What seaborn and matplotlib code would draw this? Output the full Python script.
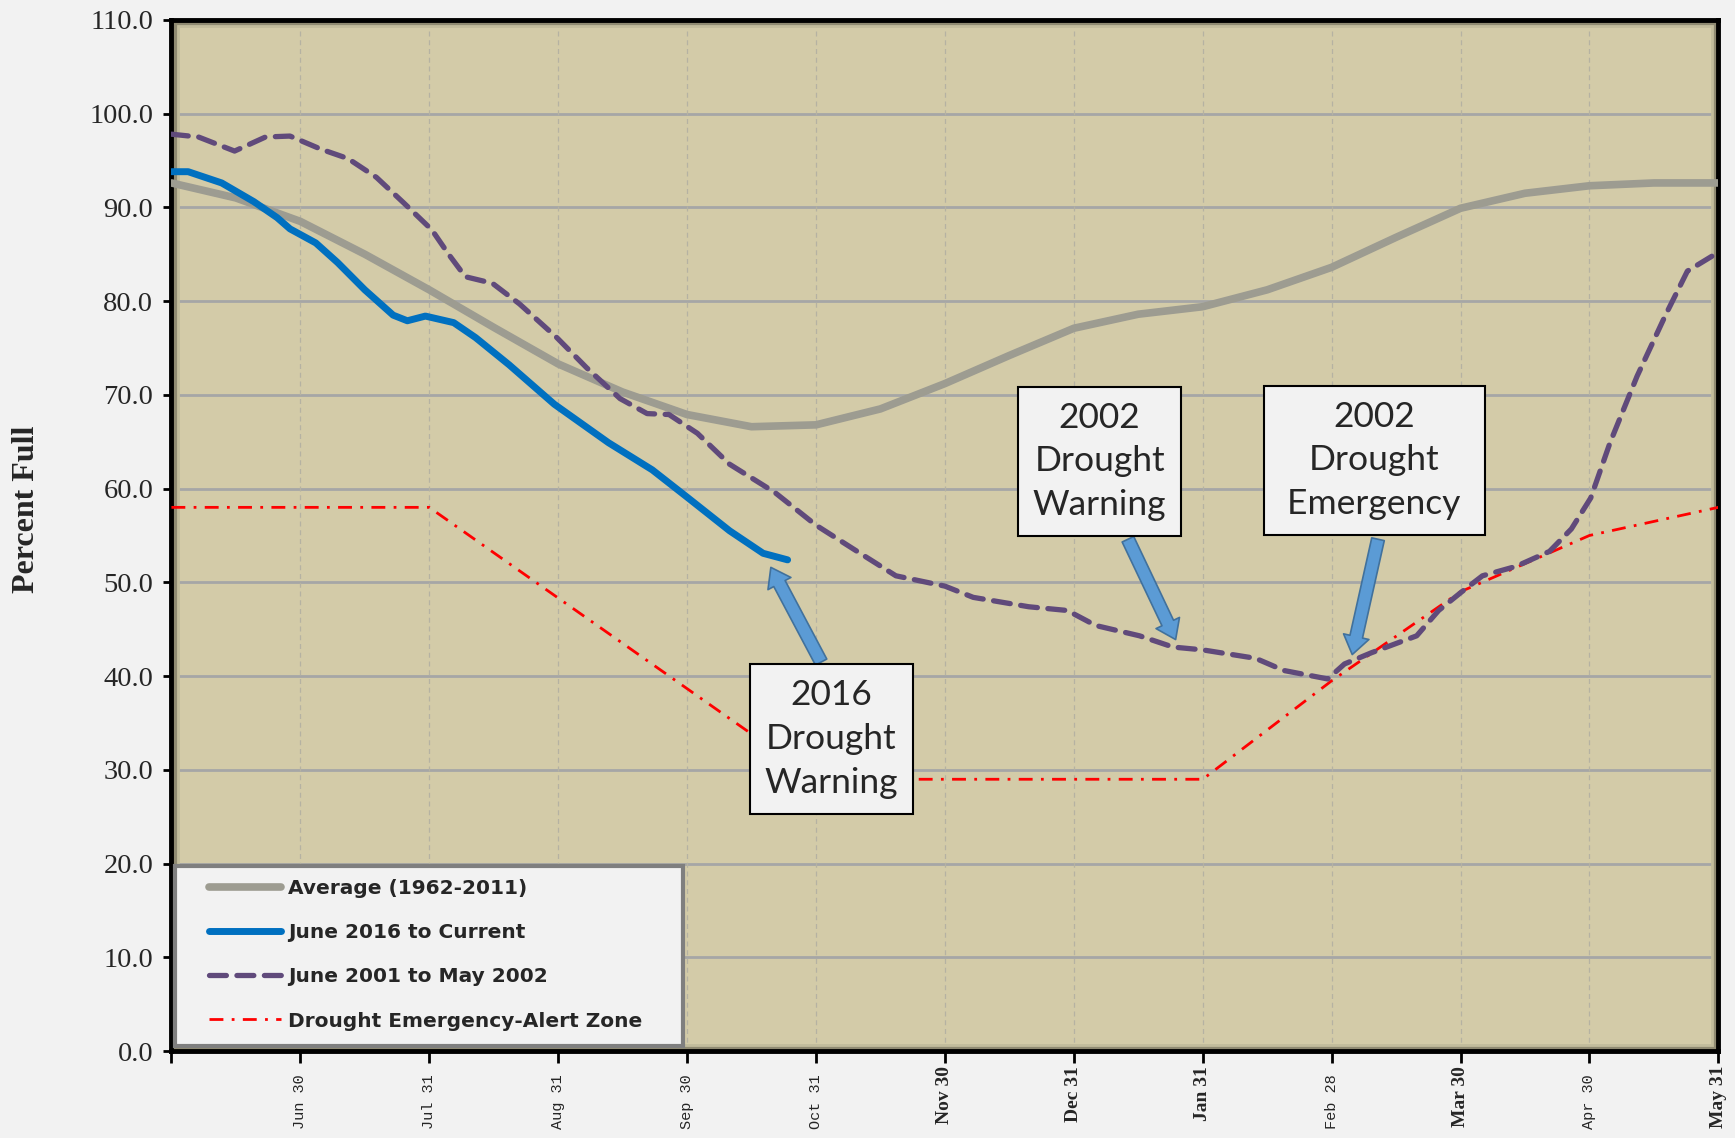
import matplotlib
matplotlib.use("Agg")
import matplotlib.pyplot as plt
import matplotlib.transforms as mtrans
import seaborn as sns
from matplotlib.patches import Rectangle

# x axis: months after June 1 (0 = Jun 1, 12 = May 31)
tick_pos = [0, 1, 2, 3, 4, 5, 6, 7, 8, 9, 10, 11, 12]
tick_labels = ["", "Jun 30", "Jul 31", "Aug 31", "Sep 30", "Oct 31", "Nov 30",
               "Dec 31", "Jan 31", "Feb 28", "Mar 30", "Apr 30", "May 31"]

# Average (1962-2011)
avg_x = [0, 0.5, 1, 1.5, 2, 2.5, 3, 3.5, 4, 4.5, 5, 5.5, 6, 6.5, 7, 7.5, 8,
         8.5, 9, 9.5, 10, 10.5, 11, 11.5, 12]
avg_y = [92.6, 91.0, 88.5, 85.0, 81.2, 77.2, 73.3, 70.3, 67.9, 66.6, 66.8, 68.5,
         71.2, 74.2, 77.1, 78.6, 79.4, 81.2, 83.6, 86.8, 89.9, 91.5, 92.3, 92.6, 92.6]

# June 2016 to Current
cur_x = [0, 0.13, 0.39, 0.64, 0.82, 0.92, 1.12, 1.29, 1.50, 1.72, 1.83, 1.97,
         2.19, 2.36, 2.62, 2.97, 3.39, 3.73, 3.99, 4.33, 4.59, 4.78]
cur_y = [93.8, 93.8, 92.6, 90.6, 88.9, 87.7, 86.2, 84.1, 81.2, 78.5, 77.9, 78.4,
         77.7, 76.1, 73.2, 69.0, 64.9, 62.0, 59.2, 55.5, 53.1, 52.4]

# June 2001 to May 2002
dry_x = [0, 0.21, 0.49, 0.73, 0.92, 1.16, 1.37, 1.59, 1.80, 2.02, 2.15, 2.28,
         2.49, 2.70, 2.99, 3.22, 3.48, 3.69, 3.86, 4.08, 4.33, 4.68, 5.00, 5.32,
         5.62, 6.00, 6.22, 6.65, 6.95, 7.17, 7.51, 7.77, 8.00, 8.41, 8.63, 8.97,
         9.10, 9.31, 9.66, 9.83, 10.01, 10.17, 10.43, 10.69, 10.86, 11.01, 11.16,
         11.37, 11.59, 11.76, 12.0]
dry_y = [97.8, 97.5, 96.0, 97.5, 97.6, 96.2, 95.2, 93.2, 90.5, 87.6, 85.0, 82.6,
         81.9, 79.7, 76.1, 72.9, 69.6, 68.0, 67.9, 65.9, 62.6, 59.6, 56.1, 53.3,
         50.7, 49.6, 48.4, 47.4, 47.0, 45.4, 44.3, 43.1, 42.8, 41.9, 40.6, 39.7,
         41.3, 42.5, 44.3, 47.0, 49.0, 50.7, 51.7, 53.3, 55.7, 59.0, 64.9,
         72.0, 78.5, 83.2, 85.2]

# Drought Emergency-Alert Zone
zone_x = [0, 2, 5, 8, 9, 10, 11, 12]
zone_y = [58, 58, 29, 29, 39.5, 49, 55, 58]

# callouts: text, box centre, arrow tail, arrow tip
notes = ["2016\nDrought\nWarning", "2002\nDrought\nWarning", "2002\nDrought\n Emergency "]
note_xy = [(5.12, 33.3), (7.20, 62.9), (9.33, 63.0)]
arrow_tail = [(5.04, 41.5), (7.42, 54.6), (9.36, 54.6)]
arrow_tip = [(4.65, 51.6), (7.79, 43.9), (9.16, 42.3)]

sns.set_theme(style="ticks")
plt.rcParams["font.family"] = ["Liberation Serif", "DejaVu Serif"]

fig = plt.figure(figsize=(17.35, 11.38), dpi=100, facecolor="#f2f2f2")
ax = fig.add_axes([0.0988, 0.0763, 0.8916, 0.9063])
ax.set_facecolor("#d3cba8")

sns.lineplot(x=avg_x, y=avg_y, ax=ax, color="#9d9c91", lw=5.5,
             label="Average (1962-2011)", zorder=3, solid_capstyle="round")
h_avg = ax.lines[-1]
sns.lineplot(x=zone_x, y=zone_y, ax=ax, color="#ff0000", lw=2,
             label="Drought Emergency-Alert Zone", zorder=3)
h_zone = ax.lines[-1]
h_zone.set_dashes([5, 3, 1, 3])
sns.lineplot(x=dry_x, y=dry_y, ax=ax, color="#604a7b", lw=3.8,
             label="June 2001 to May 2002", zorder=4)
h_dry = ax.lines[-1]
h_dry.set_dashes([3.2, 2.0])
h_dry.set_dash_capstyle("round")
sns.lineplot(x=cur_x, y=cur_y, ax=ax, color="#0070c0", lw=5,
             label="June 2016 to Current", zorder=5, solid_capstyle="round")
h_cur = ax.lines[-1]

ax.set_xlim(0, 12)
ax.set_ylim(0, 110)
ax.set_xticks(tick_pos)
ax.set_xticklabels(tick_labels, rotation=90)
ax.set_yticks(range(0, 111, 10))
ax.set_yticklabels([f"{v:.1f}" for v in range(0, 111, 10)], fontsize=20.5)

ax.tick_params(axis="x", direction="out", length=8.5, width=2, color="black", pad=2)
ax.tick_params(axis="y", direction="out", length=6, width=2, color="black", pad=7)

# the source mixes two fonts on the date axis
bold_ticks = {"Nov 30", "Dec 31", "Jan 31", "Mar 30", "May 31"}
shift = mtrans.ScaledTranslation(0, -6 / 72, fig.dpi_scale_trans)
for lab in ax.get_xticklabels():
    if lab.get_text() in bold_ticks:
        lab.set_fontfamily("Liberation Serif")
        lab.set_fontweight("bold")
        lab.set_fontsize(14)
    else:
        lab.set_fontfamily("Liberation Mono")
        lab.set_fontsize(11)
        lab.set_transform(lab.get_transform() + shift)

ax.grid(False)
for y in range(10, 110, 10):
    ax.axhline(y, color="#a6a6a6", lw=2, zorder=1)
for x in range(1, 12):
    ax.axvline(x, color="#b5b2a2", lw=0.9, ls=(0, (4, 3)), zorder=1)

for s in ax.spines.values():
    s.set_color("black")
    s.set_linewidth(3.5)
# bevel look inside the frame
ax.add_patch(Rectangle((0, 0), 1, 1, transform=ax.transAxes, fill=False,
                       ec="#8f8a72", lw=9, zorder=2))
ax.add_patch(Rectangle((0.004, 0.006), 0.992, 0.988, transform=ax.transAxes, fill=False,
                       ec="#c2bc9c", lw=2, zorder=2))

ax.set_xlabel("")
ax.set_ylabel("Percent Full", fontsize=23, fontweight="bold")
ax.yaxis.set_label_coords(-0.084, 0.525)

# legend box drawn by hand, legend entries placed inside it
ax.add_patch(Rectangle((0.0023, 0.005), 0.3284, 0.1746, transform=ax.transAxes,
                       fc="#f2f2f2", ec="#7f7f7f", lw=3, zorder=9))
leg = ax.legend(handles=[h_avg, h_cur, h_dry, h_zone],
                labels=["Average (1962-2011)", "June 2016 to Current",
                        "June 2001 to May 2002", "Drought Emergency-Alert Zone"],
                loc="lower left", bbox_to_anchor=(0.024, 0.02), borderaxespad=0,
                borderpad=0, frameon=False, handlelength=3.6,
                labelspacing=1.25, handletextpad=0.35,
                prop={"family": "DejaVu Sans", "weight": "bold", "size": 14.5})
leg.set_zorder(10)

for txt, xy, tail, tip in zip(notes, note_xy, arrow_tail, arrow_tip):
    ax.annotate("", xy=tip, xytext=tail, zorder=6,
                arrowprops=dict(arrowstyle="simple,head_length=0.6,head_width=0.85,tail_width=0.42",
                                fc="#5b9bd5", ec="#41719c", lw=1.2, mutation_scale=22,
                                shrinkA=0, shrinkB=0))
    ax.text(xy[0], xy[1], txt, ha="center", va="center", fontsize=25.5,
            family=["Lato", "DejaVu Sans"], linespacing=1.45, zorder=7,
            bbox=dict(boxstyle="square,pad=0.42", fc="#f2f2f2", ec="black", lw=1.5))

fig.savefig("out.png", dpi=100, facecolor=fig.get_facecolor())
